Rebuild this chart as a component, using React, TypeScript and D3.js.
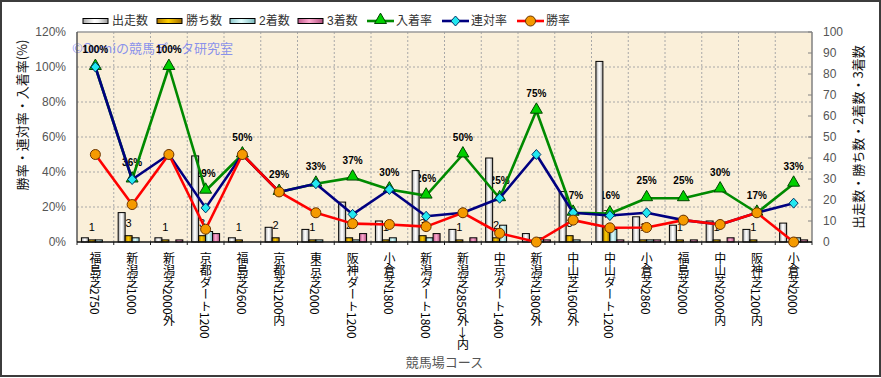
import React from 'react';
import * as d3 from 'd3';

const categories = [
  '福島芝2750', '新潟芝1000', '新潟芝2000外', '京都ダート1200', '福島芝2600',
  '京都芝1200内', '東京芝2000', '阪神ダート1200', '小倉芝1800', '新潟ダート1800',
  '新潟芝2850外→内', '中京ダート1400', '新潟芝1800外', '中山芝1600外', '中山ダート1200',
  '小倉芝2860', '福島芝2000', '中山芝2000内', '阪神芝1200内', '小倉芝2000',
];
const starts = [2, 14, 2, 41, 2, 7, 6, 19, 10, 34, 6, 40, 4, 24, 86, 12, 8, 10, 6, 9];
const wins = [1, 3, 1, 3, 1, 2, 1, 2, 1, 3, 1, 2, 0, 3, 7, 1, 1, 1, 1, 0];
const seconds = [1, 2, 0, 5, 0, 0, 1, 1, 2, 2, 0, 8, 2, 1, 6, 1, 0, 0, 0, 2];
const thirds = [0, 0, 1, 4, 0, 0, 0, 4, 0, 4, 2, 0, 1, 0, 1, 1, 1, 2, 0, 1];
const winRate = [50, 21.4, 50, 7.3, 50, 28.6, 16.7, 10.5, 10, 8.8, 16.7, 5, 0, 12.5, 8.1, 8.3, 12.5, 10, 16.7, 0];
const rentaiRate = [100, 35.7, 50, 19.5, 50, 28.6, 33.3, 15.8, 30, 14.7, 16.7, 25, 50, 16.7, 15.1, 16.7, 12.5, 10, 16.7, 22.2];
const placeRate = [100, 35.7, 100, 29.3, 50, 28.6, 33.3, 36.8, 30, 26.5, 50, 25, 75, 16.7, 16.3, 25, 25, 30, 16.7, 33.3];
const placeLabels = ['100%', '36%', '100%', '29%', '50%', '29%', '33%', '37%', '30%', '26%', '50%', '25%', '75%', '17%', '16%', '25%', '25%', '30%', '17%', '33%'];
const leftTicks = [0, 20, 40, 60, 80, 100, 120];
const rightTicks = [0, 10, 20, 30, 40, 50, 60, 70, 80, 90, 100];

const barSeries = [
  { key: 'starts', name: '出走数', values: starts, grad: 'gWhite' },
  { key: 'wins', name: '勝ち数', values: wins, grad: 'gGold' },
  { key: 'seconds', name: '2着数', values: seconds, grad: 'gCyan' },
  { key: 'thirds', name: '3着数', values: thirds, grad: 'gPink' },
];

const W = 881;
const H = 378;
const L = 77, R = 812, T = 32, B = 242;
const LAT = '"Liberation Sans", Arial, "Noto Sans CJK JP", sans-serif';
const JP = '"Noto Sans CJK JP", "Liberation Sans", sans-serif';

function Triangle({ x, y }: { x: number; y: number }) {
  const p = d3.symbol().type(d3.symbolTriangle).size(62)();
  return <path d={p || ''} transform={`translate(${x},${y - 1})`} fill="#00d000" stroke="#004400" strokeWidth={1} />;
}
function Diamond({ x, y }: { x: number; y: number }) {
  return <path d={`M${x},${y - 5}L${x + 4.5},${y}L${x},${y + 5}L${x - 4.5},${y}Z`} fill="#22e8f0" stroke="#003366" strokeWidth={1} />;
}
function Dot({ x, y }: { x: number; y: number }) {
  return <circle cx={x} cy={y} r={5} fill="#f59a00" stroke="#6a3300" strokeWidth={1} />;
}

export default function App() {
  const x0 = d3.scaleBand<string>().domain(categories).range([L, R]).paddingInner(0.24).paddingOuter(0.12);
  const x1 = d3.scaleBand<string>().domain(barSeries.map((s) => s.key)).range([0, x0.bandwidth()]);
  const yL = d3.scaleLinear().domain([0, 120]).range([B, T]);
  const yR = d3.scaleLinear().domain([0, 100]).range([B, T]);
  const step = x0.step();
  const cx = (i: number) => (x0(categories[i]) as number) + x0.bandwidth() / 2;

  const line = d3.line<number>().x((_, i) => cx(i)).y((d) => yL(d));

  const lineSeries = [
    { name: '入着率', values: placeRate, color: '#008a00', M: Triangle },
    { name: '連対率', values: rentaiRate, color: '#000080', M: Diamond },
    { name: '勝率', values: winRate, color: '#ff0000', M: Dot },
  ];

  const legendX = [83, 157, 230, 298, 367, 442, 517];
  const legendItems = [
    ...barSeries.map((s) => ({ name: s.name, kind: 'bar', grad: s.grad, color: '', M: null as any })),
    ...lineSeries.map((s) => ({ name: s.name, kind: 'line', grad: '', color: s.color, M: s.M })),
  ];

  const vGrid = d3.range(1, categories.length).map((k) => L + step * k);

  return (
    <svg width={W} height={H} style={{ position: 'absolute', left: 0, top: 0, background: '#fff' }}>
      <defs>
        <linearGradient id="gWhite" x1="0" x2="1" y1="0" y2="0">
          <stop offset="0" stopColor="#a8a8a8" />
          <stop offset="0.45" stopColor="#ffffff" />
          <stop offset="0.6" stopColor="#f4f4f4" />
          <stop offset="1" stopColor="#9a9a9a" />
        </linearGradient>
        <linearGradient id="gGold" x1="0" x2="1" y1="0" y2="0">
          <stop offset="0" stopColor="#b07800" />
          <stop offset="0.45" stopColor="#ffd000" />
          <stop offset="1" stopColor="#a06a00" />
        </linearGradient>
        <linearGradient id="gCyan" x1="0" x2="1" y1="0" y2="0">
          <stop offset="0" stopColor="#8cc8cc" />
          <stop offset="0.45" stopColor="#e2ffff" />
          <stop offset="1" stopColor="#7ab8bc" />
        </linearGradient>
        <linearGradient id="gPink" x1="0" x2="1" y1="0" y2="0">
          <stop offset="0" stopColor="#c05a8c" />
          <stop offset="0.45" stopColor="#ffaad0" />
          <stop offset="1" stopColor="#b0507e" />
        </linearGradient>
      </defs>

      <rect x={1} y={1} width={W - 2} height={H - 3} fill="#fff" stroke="#3c3c3c" strokeWidth={2} />

      {/* plot background */}
      <rect x={L} y={T} width={R - L} height={B - T} fill="#faefd9" />

      {/* grid */}
      {leftTicks.slice(1, -1).map((t) => (
        <line key={'h' + t} x1={L} x2={R} y1={yL(t)} y2={yL(t)} stroke="#a8a8a8" strokeDasharray="2,2" strokeWidth={1} />
      ))}
      {vGrid.map((gx, k) => (
        <line key={'v' + k} x1={gx} x2={gx} y1={T} y2={B} stroke="#a8a8a8" strokeDasharray="2,2" strokeWidth={1} />
      ))}

      {/* watermark */}
      <text x={72} y={53} fontFamily={JP} fontSize={13} fill="#6c78f0" fillOpacity={0.8}>©Oomiの競馬データ研究室</text>

      {/* place-rate labels */}
      {placeRate.map((v, i) => (
        <text key={'pl' + i} x={cx(i)} y={yL(v) - 14} textAnchor="middle" fontFamily={LAT} fontWeight="bold" fontSize={10} fill="#000">
          {placeLabels[i]}
        </text>
      ))}

      {/* win-count labels */}
      {wins.map((v, i) =>
        v > 0 ? (
          <text key={'wl' + i} x={(x0(categories[i]) as number) + (x1('wins') as number) + x1.bandwidth() / 2} y={yR(v) - 9}
            textAnchor="middle" fontFamily={LAT} fontSize={11} fill="#000">
            {v}
          </text>
        ) : null
      )}

      {/* bars */}
      {categories.map((c, i) => (
        <g key={'b' + i} transform={`translate(${x0(c)},0)`}>
          {barSeries.map((s) =>
            s.values[i] > 0 ? (
              <rect key={s.key} x={x1(s.key)} y={yR(s.values[i])} width={x1.bandwidth()} height={B - yR(s.values[i])}
                fill={`url(#${s.grad})`} stroke="#000" strokeWidth={1} />
            ) : null
          )}
        </g>
      ))}

      {/* plot frame and axes */}
      <line x1={L} x2={R} y1={T} y2={T} stroke="#9a9a9a" strokeWidth={1.5} />
      <line x1={L} x2={L} y1={T} y2={B} stroke="#555" strokeWidth={1.5} />
      <line x1={R} x2={R} y1={T} y2={B} stroke="#808080" strokeWidth={1.5} />
      {rightTicks.map((t) => (
        <line key={'rt' + t} x1={R - 4} x2={R} y1={yR(t)} y2={yR(t)} stroke="#808080" strokeWidth={1} />
      ))}
      {d3.range(0, categories.length + 1).map((k) => (
        <line key={'bt' + k} x1={L + step * k} x2={L + step * k} y1={B} y2={B + 3} stroke="#222" strokeWidth={1} />
      ))}
      <line x1={L} x2={R} y1={B} y2={B} stroke="#111" strokeWidth={1.5} />

      {/* lines */}
      {lineSeries.map((s) => (
        <g key={s.name}>
          <path d={line(s.values) || ''} fill="none" stroke={s.color} strokeWidth={2.6} strokeLinejoin="round" />
          {s.values.map((v, i) => (
            <s.M key={i} x={cx(i)} y={yL(v)} />
          ))}
        </g>
      ))}

      {/* left axis labels */}
      {leftTicks.map((t) => (
        <text key={'lt' + t} x={66} y={yL(t)} dy="0.35em" textAnchor="end" fontFamily={LAT} fontSize={12} fill="#555">{t}%</text>
      ))}
      {/* right axis labels */}
      {rightTicks.map((t) => (
        <text key={'rl' + t} x={823} y={yR(t)} dy="0.35em" textAnchor="start" fontFamily={LAT} fontSize={12} fill="#555">{t}</text>
      ))}

      {/* x labels */}
      {categories.map((c, i) => (
        <text key={'xl' + i} x={cx(i)} y={252} fontFamily={JP} fontSize={12} fill="#000"
          style={{ writingMode: 'vertical-rl' as any }}>
          {c}
        </text>
      ))}

      {/* axis titles */}
      <text transform={`translate(21,115) rotate(-90)`} textAnchor="middle" dominantBaseline="central" fontFamily={JP} fontSize={13} fill="#111">
        勝率・連対率・入着率(%)
      </text>
      <text transform={`translate(857,${(T + B) / 2}) rotate(-90)`} textAnchor="middle" dominantBaseline="central" fontFamily={JP} fontSize={13} fill="#111">
        出走数・勝ち数・2着数・3着数
      </text>
      <text x={(L + R) / 2} y={367} textAnchor="middle" fontFamily={JP} fontSize={13} fill="#555">競馬場コース</text>

      {/* legend */}
      {legendItems.map((it, k) => {
        const lx = legendX[k];
        return (
          <g key={'lg' + k}>
            {it.kind === 'bar' ? (
              <rect x={lx} y={18.5} width={25} height={5} fill={`url(#${it.grad})`} stroke="#000" strokeWidth={1} />
            ) : (
              <g>
                <line x1={lx} x2={lx + 27} y1={21} y2={21} stroke={it.color} strokeWidth={2.6} />
                <it.M x={lx + 13.5} y={21} />
              </g>
            )}
            <text x={lx + 29} y={21} dy="0.35em" fontFamily={LAT} fontSize={12} fill="#333">{it.name}</text>
          </g>
        );
      })}
    </svg>
  );
}
